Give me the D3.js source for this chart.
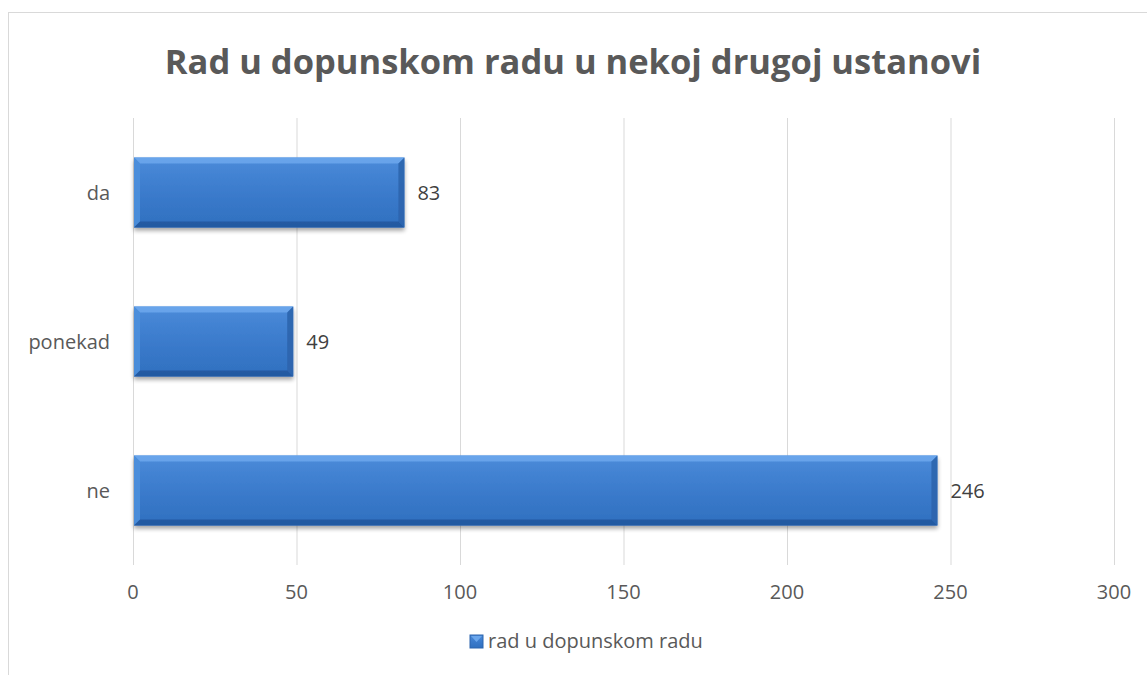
<!DOCTYPE html>
<html>
<head>
<meta charset="utf-8">
<script src="https://cdn.jsdelivr.net/npm/d3@7"></script>
<style>
  body { margin: 0; background: #fff; }
  svg { font-family: "Open Sans", sans-serif; }
</style>
</head>
<body>
<svg width="1147" height="675"></svg>
<script>
const width = 1147, height = 675;

const categories = ["da", "ponekad", "ne"];
const values = [83, 49, 246];
const xTicks = [0, 50, 100, 150, 200, 250, 300];
const seriesName = "rad u dopunskom radu";
const title = "Rad u dopunskom radu u nekoj drugoj ustanovi";

const svg = d3.select("svg");

// chart frame
svg.append("rect")
    .attr("x", 8.5).attr("y", 12.5)
    .attr("width", 1160).attr("height", 700)
    .attr("fill", "#fff")
    .attr("stroke", "#d9d9d9");

const plot = { left: 133, right: 1114, top: 118, bottom: 565 };

const x = d3.scaleLinear().domain([0, 300]).range([plot.left, plot.right]);
const y = d3.scaleBand().domain(categories).range([plot.top, plot.bottom]).paddingInner(0.53).paddingOuter(0.265);

// gradients
const defs = svg.append("defs");
const g = defs.append("linearGradient").attr("id", "barGrad").attr("x1", 0).attr("y1", 0).attr("x2", 0).attr("y2", 1);
g.append("stop").attr("offset", "0%").attr("stop-color", "#4b8bd9");
g.append("stop").attr("offset", "50%").attr("stop-color", "#3b7bcc");
g.append("stop").attr("offset", "100%").attr("stop-color", "#3070bf");
const sh = defs.append("filter").attr("id", "shadow").attr("x", "-5%").attr("y", "-20%").attr("width", "110%").attr("height", "150%");
sh.append("feGaussianBlur").attr("in", "SourceAlpha").attr("stdDeviation", 2);
sh.append("feOffset").attr("dy", 3).attr("result", "b");
sh.append("feComponentTransfer").append("feFuncA").attr("type", "linear").attr("slope", 0.35);
const m = sh.append("feMerge");
m.append("feMergeNode");
m.append("feMergeNode").attr("in", "SourceGraphic");

// gridlines
svg.selectAll(".grid")
    .data(xTicks)
    .enter().append("line")
    .attr("class", "grid")
    .attr("x1", d => x(d) + 0.5).attr("x2", d => x(d) + 0.5)
    .attr("y1", plot.top).attr("y2", plot.bottom)
    .attr("stroke", "#d9d9d9")
    .attr("stroke-width", 1);

// x tick labels
svg.selectAll(".xtick")
    .data(xTicks)
    .enter().append("text")
    .attr("x", d => x(d))
    .attr("y", 599)
    .attr("text-anchor", "middle")
    .attr("fill", "#595959")
    .attr("font-size", "20px")
    .text(d => d);

// category labels
svg.selectAll(".ylab")
    .data(categories)
    .enter().append("text")
    .attr("x", 110)
    .attr("y", d => y(d) + y.bandwidth() / 2 + 7)
    .attr("text-anchor", "end")
    .attr("fill", "#595959")
    .attr("font-size", "20px")
    .text(d => d);

// bars with bevel
const bv = 6;
const bars = svg.selectAll(".bar")
    .data(categories.map((c, i) => ({ c, v: values[i] })))
    .enter().append("g")
    .attr("class", "bar")
    .attr("filter", "url(#shadow)");

bars.append("rect")
    .attr("x", plot.left + 1)
    .attr("y", d => y(d.c))
    .attr("width", d => x(d.v) - plot.left - 1)
    .attr("height", y.bandwidth())
    .attr("fill", "url(#barGrad)");

// top bevel
bars.append("polygon")
    .attr("points", d => {
        const x0 = plot.left + 1, x1 = x(d.v), y0 = y(d.c);
        return [[x0, y0], [x1, y0], [x1 - bv, y0 + bv], [x0 + bv, y0 + bv]].join(" ");
    })
    .attr("fill", "#6aa6ec").attr("opacity", 0.9);
// left bevel
bars.append("polygon")
    .attr("points", d => {
        const x0 = plot.left + 1, y0 = y(d.c), y1 = y0 + y.bandwidth();
        return [[x0, y0], [x0 + bv, y0 + bv], [x0 + bv, y1 - bv], [x0, y1]].join(" ");
    })
    .attr("fill", "#4d8fdc").attr("opacity", 0.9);
// right bevel
bars.append("polygon")
    .attr("points", d => {
        const x1 = x(d.v), y0 = y(d.c), y1 = y0 + y.bandwidth();
        return [[x1, y0], [x1, y1], [x1 - bv, y1 - bv], [x1 - bv, y0 + bv]].join(" ");
    })
    .attr("fill", "#2c64ad").attr("opacity", 0.9);
// bottom bevel
bars.append("polygon")
    .attr("points", d => {
        const x0 = plot.left + 1, x1 = x(d.v), y1 = y(d.c) + y.bandwidth();
        return [[x0, y1], [x0 + bv, y1 - bv], [x1 - bv, y1 - bv], [x1, y1]].join(" ");
    })
    .attr("fill", "#24589e").attr("opacity", 0.9);

// value labels
svg.selectAll(".val")
    .data(categories.map((c, i) => ({ c, v: values[i] })))
    .enter().append("text")
    .attr("x", d => x(d.v) + 13)
    .attr("y", d => y(d.c) + y.bandwidth() / 2 + 7)
    .attr("fill", "#404040")
    .attr("font-size", "20px")
    .text(d => d.v);

// title
svg.append("text")
    .attr("x", 573)
    .attr("y", 74)
    .attr("text-anchor", "middle")
    .attr("fill", "#595959")
    .attr("font-size", "34.5px")
    .attr("font-weight", "bold")
    .text(title);

// legend
const leg = svg.append("g").attr("transform", "translate(470,641)");
leg.append("rect").attr("x", 0).attr("y", -6).attr("width", 13).attr("height", 13).attr("fill", "url(#barGrad)").attr("stroke", "#2c64ad");
leg.append("polygon").attr("points", "1,-5 12,-5 6.5,1").attr("fill", "#6aa6ec");
leg.append("text")
    .attr("x", 18).attr("y", 7)
    .attr("fill", "#595959")
    .attr("font-size", "20px")
    .text(seriesName);
</script>
</body>
</html>
